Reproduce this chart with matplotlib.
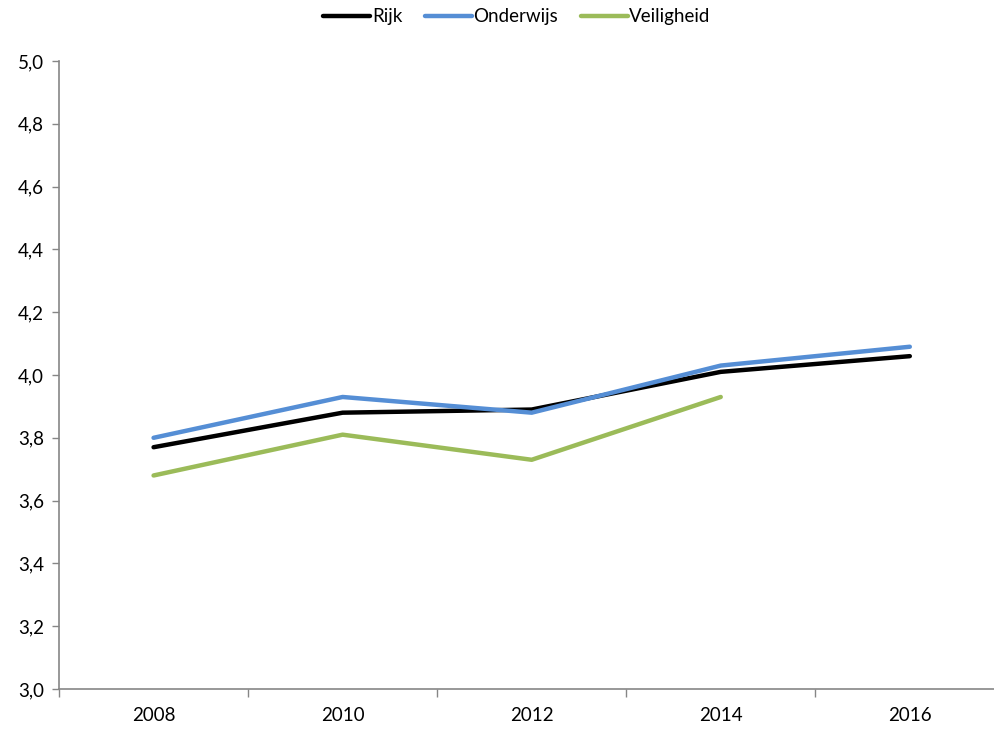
import numpy as np
import matplotlib.pyplot as plt

jaren = ['2008', '2010', '2012', '2014', '2016']
rijk = [3.77, 3.88, 3.89, 4.01, 4.06]
onderwijs = [3.80, 3.93, 3.88, 4.03, 4.09]
veiligheid = [3.68, 3.81, 3.73, 3.93]

plt.rcParams['font.family'] = ['Lato', 'DejaVu Sans']

fig = plt.figure(figsize=(9.94, 7.34), dpi=100)
ax = fig.add_axes([0.0594, 0.0613, 0.951, 0.8556])

x = np.arange(len(jaren))
ax.plot(x, rijk, color='black', lw=3.2, label='Rijk', solid_capstyle='round')
ax.plot(x, onderwijs, color='#558ED5', lw=3.2, label='Onderwijs', solid_capstyle='round')
ax.plot(x[:len(veiligheid)], veiligheid, color='#9BBB59', lw=3.2, label='Veiligheid',
        solid_capstyle='round')

ax.set_xlim(-0.5, len(jaren) - 0.5)
ax.set_ylim(3.0, 5.0)
ax.set_yticks(np.arange(3.0, 5.01, 0.2))
ax.set_yticklabels([f'{v:.1f}'.replace('.', ',') for v in np.arange(3.0, 5.01, 0.2)])

# jaartallen midden in de categorie, streepjes op de grenzen
ax.set_xticks(x)
ax.set_xticklabels(jaren)
ax.set_xticks(np.arange(-0.5, len(jaren)), minor=True)
ax.tick_params(axis='x', which='major', length=0, pad=13, labelsize=13.5)
ax.tick_params(axis='x', which='minor', length=6, color='#868686', width=1)
ax.tick_params(axis='y', length=5, color='#868686', width=1, labelsize=13.5, pad=6)

for s in ['top', 'right']:
    ax.spines[s].set_visible(False)
for s in ['left', 'bottom']:
    ax.spines[s].set_color('#868686')
    ax.spines[s].set_linewidth(1.2)

fig.legend(loc='center', bbox_to_anchor=(0.52, 0.977), ncol=3, frameon=False,
           fontsize=13.5, handlelength=2.5, handletextpad=0.1, columnspacing=1.2)

fig.savefig('out.png', dpi=100)
